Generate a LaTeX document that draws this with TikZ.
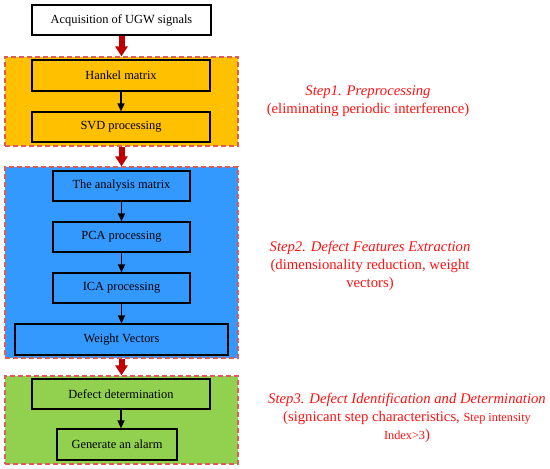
\documentclass[tikz,border=0pt]{standalone}
\usepackage{fontspec}
\setmainfont{Liberation Serif}
\usetikzlibrary{arrows.meta}
\definecolor{grporange}{HTML}{FFC000}
\definecolor{grpblue}{HTML}{3399FF}
\definecolor{grpgreen}{HTML}{92D050}
\definecolor{dashred}{HTML}{E05A5A}
\definecolor{bigarrow}{HTML}{C00000}
\definecolor{steptext}{HTML}{FF1010}
\tikzset{
  groupbox/.style={draw=dashred, dashed, dash pattern=on 5pt off 3pt, line width=1.2pt, rectangle, inner sep=0pt, minimum width=233pt},
  procbox/.style={draw=black, line width=1.2pt, rectangle, inner sep=0pt, font=\fontsize{12.4}{14}\selectfont, text=black},
  bigarr/.style={draw=bigarrow, line width=6pt, -{Triangle[width=12pt,length=10pt]}},
  smallarr/.style={draw=black, line width=1.2pt, -{Triangle[width=7pt,length=8pt]}},
  steplabel/.style={text=steptext, align=center, font=\fontsize{14.7}{18}\selectfont, inner sep=0pt}
}
\begin{document}
\begin{tikzpicture}[x=1pt,y=-1pt]
\useasboundingbox (0,0) rectangle (550,469);
% groups
\node[groupbox, fill=grporange, minimum height=89pt] (g1) at (121.5,101.5) {};
\node[groupbox, fill=grpblue, minimum height=191pt] (g2) at (121.5,262.5) {};
\node[groupbox, fill=grpgreen, minimum height=88pt] (g3) at (121.5,420) {};
% boxes
\node[procbox, fill=white, minimum width=179pt, minimum height=30pt] (acq) at (121.5,20) {Acquisition of UGW signals};
\node[procbox, minimum width=178pt, minimum height=31pt] (hank) at (121,75.5) {Hankel matrix};
\node[procbox, minimum width=178pt, minimum height=30pt] (svd) at (121,127) {SVD processing};
\node[procbox, minimum width=137pt, minimum height=30pt] (ana) at (121.5,186) {The analysis matrix};
\node[procbox, minimum width=137pt, minimum height=30pt] (pca) at (121.5,237) {PCA processing};
\node[procbox, minimum width=137pt, minimum height=30pt] (ica) at (121.5,288) {ICA processing};
\node[procbox, minimum width=213pt, minimum height=31pt] (wv) at (121.5,339.5) {Weight Vectors};
\node[procbox, minimum width=178pt, minimum height=30pt] (def) at (121,394) {Defect determination};
\node[procbox, minimum width=120pt, minimum height=31pt] (gen) at (117,444.5) {Generate an alarm};
% big arrows
\draw[bigarr] (acq.south) -- (acq.south |- g1.north);
\draw[bigarr] (g1.south) -- (g1.south |- g2.north);
\draw[bigarr] (g2.south) -- (g2.south |- g3.north);
% small arrows
\draw[smallarr] (hank.south) -- (svd.north);
\draw[smallarr] (ana.south) -- (pca.north);
\draw[smallarr] (pca.south) -- (ica.north);
\draw[smallarr] (ica.south) -- (wv.north);
\draw[smallarr] (def.south) -- (def.south |- gen.north);
% step labels
\node[steplabel] (s1) at (368,101) {\textit{Step1. Preprocessing}\\(eliminating periodic interference)};
\node[steplabel] (s2) at (370,265.5) {\textit{Step2. Defect Features Extraction}\\(dimensionality reduction, weight\\vectors)};
\node[steplabel] (s3) at (407,418) {\textit{Step3. Defect Identification and Determination}\\(signicant step characteristics, {\fontsize{12.3}{14}\selectfont Step intensity}\\{\fontsize{12.3}{14}\selectfont Index>3})};
\end{tikzpicture}
\end{document}
